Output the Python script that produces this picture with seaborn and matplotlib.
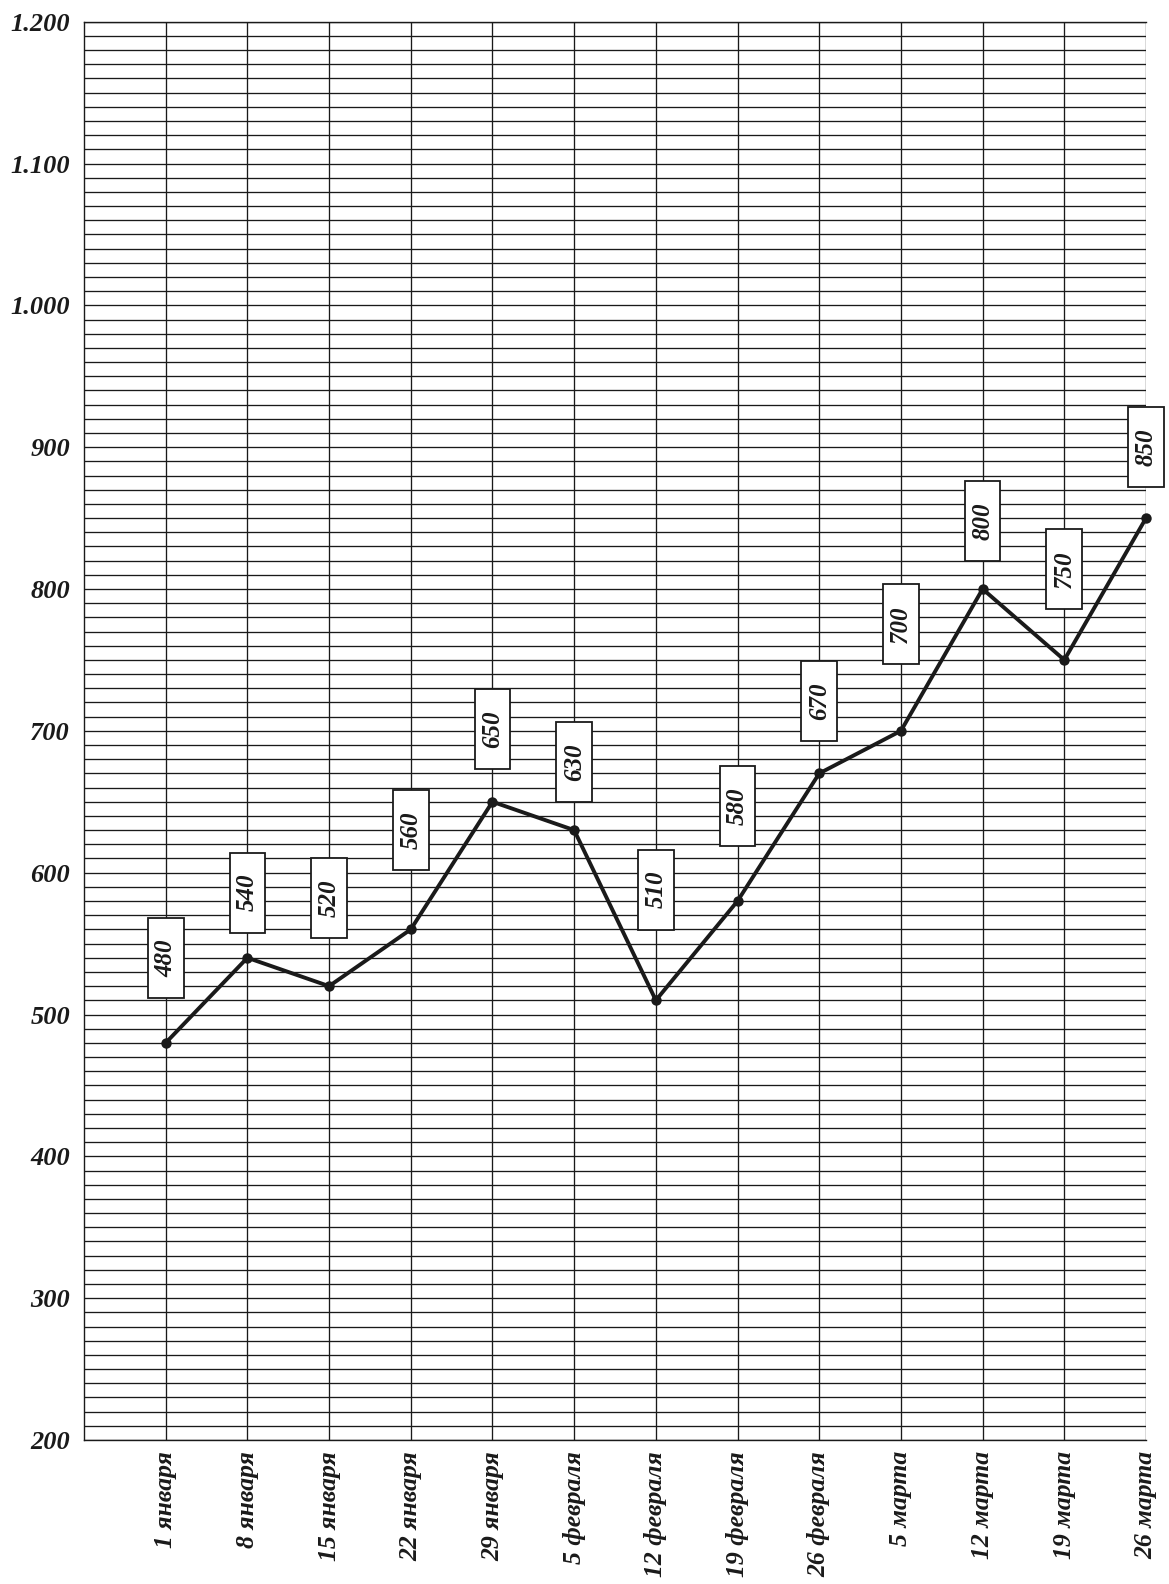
import matplotlib
matplotlib.use("Agg")
import matplotlib.pyplot as plt
from matplotlib.patches import Rectangle
import numpy as np
import pandas as pd
import seaborn as sns

# ---- data ----
dates = ["1 января", "8 января", "15 января", "22 января", "29 января",
         "5 февраля", "12 февраля", "19 февраля", "26 февраля",
         "5 марта", "12 марта", "19 марта", "26 марта"]
values = [480, 540, 520, 560, 650, 630, 510, 580, 670, 700, 800, 750, 850]
y_ticks = [200, 300, 400, 500, 600, 700, 800, 900, 1000, 1100, 1200]
y_tick_labels = ["200", "300", "400", "500", "600", "700", "800", "900",
                 "1.000", "1.100", "1.200"]

# label box placement (offset above the point, in value units)
label_offsets = [60, 46, 62, 70, 51, 48, 78, 67, 51, 75, 48, 64, 50]

sns.set_theme(style="white")
plt.rcParams["font.family"] = ["Liberation Serif", "DejaVu Serif"]

df = pd.DataFrame({"pos": np.arange(len(dates)), "date": dates, "value": values})

fig = plt.figure(figsize=(11.69, 15.84), dpi=100)
W, H = 1169, 1584
left, right, top, bottom = 84, 1146, 21.7, 1440
ax = fig.add_axes([left / W, 1 - bottom / H, (right - left) / W, (bottom - top) / H])

ax.set_xlim(-1, len(dates) - 1)
ax.set_ylim(200, 1200)

# grid
grid_kw = dict(color="#1a1a1a", linewidth=0.95, zorder=1)
for yv in np.arange(200, 1201, 10):
    ax.axhline(yv, **grid_kw)
for xv in range(len(dates)):
    ax.axvline(xv, **grid_kw)

sns.lineplot(data=df, x="pos", y="value", ax=ax, color="#1a1a1a",
             linewidth=2.8, marker="o", markersize=7.5, markeredgewidth=0,
             zorder=3, clip_on=False)

# value boxes
bw = 0.218
bh = 28.2
for x, v, off in zip(df["pos"], df["value"], label_offsets):
    cy = v + off
    ax.add_patch(Rectangle((x - bw, cy - bh), 2 * bw, 2 * bh, facecolor="white",
                           edgecolor="#1a1a1a", linewidth=1.3, zorder=4,
                           clip_on=False))
    ax.text(x, cy, f"{v}", rotation=90, ha="center", va="center",
            fontsize=18, fontweight="bold", fontstyle="italic",
            color="#1a1a1a", zorder=5, clip_on=False)

ax.set_xticks(range(len(dates)))
ax.set_xticklabels(dates, rotation=90, fontsize=18.5, fontweight="bold",
                   fontstyle="italic", color="#1a1a1a", va="top", ha="center")
ax.set_yticks(y_ticks)
ax.set_yticklabels(y_tick_labels, fontsize=19, fontweight="bold",
                   fontstyle="italic", color="#1a1a1a")
ax.tick_params(axis="x", length=0, pad=8)
ax.tick_params(axis="y", length=0, pad=10)
ax.set_xlabel("")
ax.set_ylabel("")
for s in ["left", "bottom", "top"]:
    ax.spines[s].set_visible(True)
    ax.spines[s].set_color("#1a1a1a")
    ax.spines[s].set_linewidth(1.0)
ax.spines["right"].set_visible(False)

fig.savefig("out.png", dpi=100, facecolor="white")
